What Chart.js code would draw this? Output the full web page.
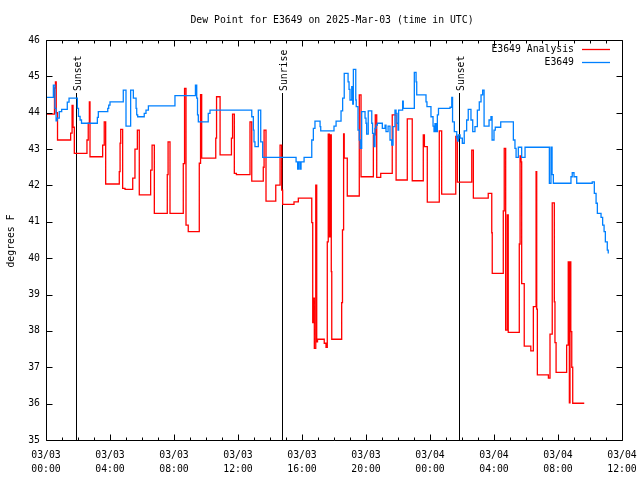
<!DOCTYPE html>
<html><head><meta charset="utf-8">
<script src="https://cdn.jsdelivr.net/npm/chart.js@4/dist/chart.umd.min.js"></script>
<style>html,body{margin:0;padding:0;background:#fff;}</style>
</head><body>
<canvas id="c" width="640" height="480"></canvas>
<script>
// ---- data (time = hours since 03/03 00:00 UTC) ----
const TITLE = 'Dew Point for E3649 on 2025-Mar-03 (time in UTC)';
const Y_LABEL = 'degrees F';
const SERIES_NAMES = ['E3649 Analysis', 'E3649'];
const X_TICK_HOURS = [0, 4, 8, 12, 16, 20, 24, 28, 32, 36];
const X_TICK_LABELS = [['03/03','00:00'],['03/03','04:00'],['03/03','08:00'],['03/03','12:00'],['03/03','16:00'],
                       ['03/03','20:00'],['03/04','00:00'],['03/04','04:00'],['03/04','08:00'],['03/04','12:00']];
const Y_TICKS = [35,36,37,38,39,40,41,42,43,44,45,46];

const analysisHours = [0,0.53,0.59,0.64,0.72,1.54,1.63,1.69,1.77,2.56,2.64,2.71,2.75,3.54,3.64,3.73,4.58,4.63,4.67,4.79,4.94,
 5.42,5.56,5.71,5.83,6.54,6.63,6.77,7.58,7.63,7.75,8.58,8.66,8.75,8.89,9.58,9.66,9.73,10.61,10.66,10.88,11.59,11.66,11.77,11.9,
 12.75,12.86,13.58,13.63,13.75,14.36,14.63,14.73,14.79,15.5,15.77,16.61,16.67,16.72,16.77,16.86,16.92,16.97,17.39,17.5,17.58,
 17.64,17.71,17.79,17.83,17.86,18.48,18.53,18.6,18.64,18.83,19.58,19.69,20.46,20.58,20.67,20.92,21.64,21.88,22.58,22.89,23.58,
 23.65,23.83,24.58,24.73,25.61,25.71,26.61,26.71,27.64,27.86,27.89,28.58,28.64,28.73,28.83,28.89,29.58,29.63,29.69,29.73,29.89,
 30.3,30.46,30.63,30.67,30.71,31.4,31.5,31.64,31.77,31.81,31.88,32.54,32.64,32.71,32.75,32.8,32.86,32.92,33.64];
const analysisValues = [43.96,44.68,44.85,44.0,43.25,43.44,44.2,43.6,42.88,43.25,43.71,44.3,42.79,43.11,43.75,42.04,42.38,43.16,43.54,41.92,41.89,
 42.2,43.0,43.52,41.74,42.42,43.11,41.23,42.3,43.2,41.23,42.6,44.67,40.91,40.73,42.61,44.5,42.75,43.3,44.44,42.84,43.3,43.96,42.33,42.3,
 43.75,42.12,42.5,43.52,41.57,42.01,43.11,41.87,41.48,41.55,41.65,40.98,38.23,38.9,37.52,42.01,37.7,37.77,37.66,37.55,40.45,
 43.41,40.59,43.39,39.63,37.77,38.78,40.78,43.42,42.75,41.71,44.49,42.24,43.39,43.94,42.22,42.33,43.94,42.15,43.83,42.13,43.39,
 43.07,41.54,43.5,41.76,43.35,42.09,42.97,41.65,41.78,40.7,39.58,41.3,43.02,38.02,41.19,37.96,40.39,42.81,42.65,39.3,37.58,
 37.45,38.67,42.38,38.6,36.79,36.7,37.91,41.52,38.8,37.68,36.86,37.61,39.9,36.02,39.9,37.98,37.0,36.01,36.01];

const stationHours = [0,0.46,0.56,0.63,0.69,0.83,0.98,1.33,1.44,1.96,2.03,2.13,2.22,3.21,3.27,3.86,3.92,4.0,4.83,5.0,5.29,5.46,
 5.63,5.67,5.73,6.14,6.25,6.4,8.06,9.34,9.42,9.47,9.52,10.14,10.25,12.86,12.96,13.0,13.06,13.27,13.42,13.54,15.63,15.73,15.79,
 15.88,15.94,16.13,16.61,16.71,16.81,17.13,17.17,18.0,18.13,18.44,18.54,18.64,18.88,18.94,19.0,19.11,19.17,19.21,19.36,19.39,
 19.5,19.58,19.64,19.73,19.94,20.0,20.04,20.14,20.36,20.41,20.5,20.56,20.63,20.71,21.02,21.19,21.25,21.38,21.5,21.61,21.69,
 21.81,21.88,21.94,22.0,22.04,22.29,22.33,23.02,23.13,23.17,23.75,23.81,24.06,24.19,24.25,24.31,24.38,24.46,24.53,25.25,25.36,
 25.41,25.52,25.67,25.72,25.77,25.88,26.02,26.14,26.29,26.39,26.56,26.67,26.81,26.96,27.08,27.19,27.29,27.38,27.69,27.81,27.88,
 28.0,28.08,28.42,29.21,29.31,29.38,29.52,29.73,29.94,31.46,31.56,31.63,31.71,32.81,32.89,33.0,33.17,34.14,34.27,34.38,34.46,
 34.69,34.79,34.88,34.96,35.08,35.14];
const stationValues = [44.42,44.76,44.12,43.78,43.85,44.03,44.09,44.29,44.4,44.12,43.9,43.8,43.71,43.87,44.03,44.12,44.21,44.3,44.62,43.63,44.62,44.4,
 44.12,43.94,43.89,43.98,44.07,44.19,44.47,44.76,44.4,43.94,43.75,43.98,44.07,43.89,43.52,43.2,43.07,44.07,43.2,42.77,42.65,42.45,42.65,
 42.45,42.65,42.77,43.25,43.57,43.77,43.62,43.5,43.63,43.77,44.05,44.4,45.08,44.85,44.64,44.35,44.72,44.24,45.19,44.35,44.17,
 43.52,43.25,43.02,44.03,43.85,43.71,43.41,44.05,43.71,43.43,43.07,43.57,43.66,43.71,43.57,43.66,43.48,43.63,43.25,43.11,43.62,
 44.07,43.98,43.71,43.52,44.07,44.32,44.12,45.11,44.85,44.49,44.3,44.17,43.89,43.63,43.48,43.7,43.48,43.94,44.12,44.15,44.42,
 43.75,43.48,43.31,43.22,43.39,43.3,43.16,43.5,43.8,44.09,43.8,43.48,43.62,44.07,44.3,44.49,44.62,43.63,43.8,43.89,43.25,
 43.52,43.6,43.75,43.25,43.02,42.77,43.05,42.77,43.05,42.06,43.05,42.3,42.06,42.24,42.35,42.24,42.06,42.1,41.78,41.51,41.23,
 41.12,40.91,40.73,40.45,40.22,40.13];

const eventNames = ['Sunset', 'Sunrise', 'Sunset'];
const eventHours = [1.85, 14.77, 25.83];

// ---- styles ----
const FONT = '"DejaVu Sans Mono", "Liberation Mono", monospace';
const FSIZE = 9.8;
const RED = '#ff0000';
const BLUE = 'rgb(0,128,255)';

const decor = {
  id: 'decor',
  beforeDatasetsDraw(chart) {
    const ctx = chart.ctx, a = chart.chartArea, xs = chart.scales.x;
    ctx.save();
    ctx.strokeStyle = '#000'; ctx.lineWidth = 1; ctx.fillStyle = '#000';
    ctx.font = FSIZE + 'px ' + FONT;
    eventHours.forEach((h, i) => {
      const px = Math.round(xs.getPixelForValue(h)) + 0.5;
      ctx.beginPath(); ctx.moveTo(px, 93); ctx.lineTo(px, a.bottom); ctx.stroke();
      ctx.save();
      ctx.translate(px + 2, 91);
      ctx.rotate(-Math.PI / 2);
      ctx.textAlign = 'left'; ctx.textBaseline = 'middle';
      ctx.fillText(eventNames[i], 0, 0);
      ctx.restore();
    });
    ctx.restore();
  },
  afterDraw(chart) {
    const ctx = chart.ctx, a = chart.chartArea, xs = chart.scales.x, ys = chart.scales.y;
    ctx.save();
    ctx.strokeStyle = '#000'; ctx.lineWidth = 1;
    const L = Math.round(a.left) + 0.5, R = Math.round(a.right) + 0.5, T = Math.round(a.top) + 0.5, B = Math.round(a.bottom) + 0.5;
    ctx.beginPath();
    for (let h = 0; h <= 36; h++) {
      const px = Math.round(xs.getPixelForValue(h)) + 0.5;
      const len = (h % 4 === 0) ? 6 : 3;
      ctx.moveTo(px, B); ctx.lineTo(px, B - len);
      ctx.moveTo(px, T); ctx.lineTo(px, T + len);
    }
    Y_TICKS.forEach(v => {
      const py = Math.round(ys.getPixelForValue(v)) + 0.5;
      ctx.moveTo(L, py); ctx.lineTo(L + 6, py);
      ctx.moveTo(R, py); ctx.lineTo(R - 6, py);
    });
    ctx.rect(L, T, R - L, B - T);
    ctx.stroke();

    ctx.fillStyle = '#000';
    ctx.font = FSIZE + 'px ' + FONT;
    ctx.textAlign = 'center'; ctx.textBaseline = 'middle';
    ctx.fillText(TITLE, 332, 20);
    ctx.save();
    ctx.translate(11, 241);
    ctx.rotate(-Math.PI / 2);
    ctx.fillText(Y_LABEL, 0, 0);
    ctx.restore();
    const cols = [RED, BLUE];
    SERIES_NAMES.forEach((n, i) => {
      const y = 49 + i * 13;
      ctx.textAlign = 'right';
      ctx.fillStyle = '#000';
      ctx.fillText(n, 574, y + 0.5);
      ctx.strokeStyle = cols[i];
      ctx.lineWidth = 1.3;
      ctx.beginPath(); ctx.moveTo(582, y + 0.5); ctx.lineTo(610, y + 0.5); ctx.stroke();
    });
    ctx.restore();
  }
};

const mk = (hs, vs) => hs.map((h, i) => ({x: h, y: vs[i]}));

new Chart(document.getElementById('c'), {
  type: 'line',
  data: {
    datasets: [
      {label: SERIES_NAMES[0], data: mk(analysisHours, analysisValues), borderColor: RED, borderWidth: 1.3,
       pointRadius: 0, stepped: true, fill: false, order: 1},
      {label: SERIES_NAMES[1], data: mk(stationHours, stationValues), borderColor: BLUE, borderWidth: 1.3,
       pointRadius: 0, stepped: true, fill: false, order: 0}
    ]
  },
  options: {
    responsive: false, animation: false, devicePixelRatio: 1,
    layout: {padding: {top: 40, right: 18, left: 0, bottom: 0}},
    plugins: {legend: {display: false}, title: {display: false}, tooltip: {enabled: false}},
    scales: {
      x: {
        type: 'linear', min: 0, max: 36,
        grid: {display: false, drawTicks: false}, border: {display: false},
        afterBuildTicks: s => { s.ticks = X_TICK_HOURS.map(v => ({value: v})); },
        ticks: {callback: (v) => X_TICK_LABELS[X_TICK_HOURS.indexOf(v)], maxRotation: 0, minRotation: 0, autoSkip: false,
                padding: 8, color: '#000', font: {family: FONT, size: FSIZE, lineHeight: 1.45}},
        afterFit: s => { s.height = 40; s.paddingLeft = 0; s.paddingRight = 0; }
      },
      y: {
        min: 35, max: 46,
        grid: {display: false, drawTicks: false}, border: {display: false},
        afterBuildTicks: s => { s.ticks = Y_TICKS.map(v => ({value: v})); },
        ticks: {padding: 6, color: '#000', font: {family: FONT, size: FSIZE}},
        afterFit: s => { s.width = 46; s.paddingTop = 0; s.paddingBottom = 0; }
      }
    }
  },
  plugins: [decor]
});
</script>
</body></html>
